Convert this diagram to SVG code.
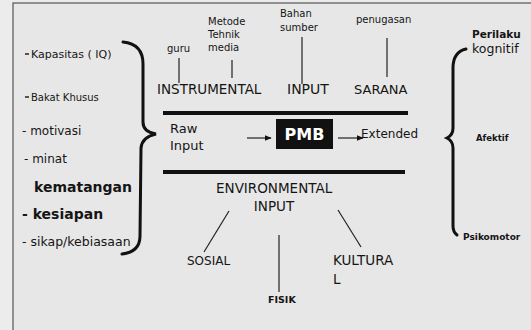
<svg xmlns="http://www.w3.org/2000/svg" width="531" height="330" viewBox="0 0 531 330">
<defs>
<marker id="ah" viewBox="0 0 10 10" refX="9" refY="5" markerWidth="7" markerHeight="7" markerUnits="userSpaceOnUse" orient="auto"><path d="M0,1 L10,5 L0,9 z" fill="#111"/></marker>
<style>
text{font-family:"DejaVu Sans","Verdana",sans-serif;fill:#151515}
.s{font-size:10px}
.m{font-size:12px}
.l{font-size:13px}
.b{font-weight:bold}
.ln{stroke:#222;stroke-width:1.2;fill:none}
.thick{stroke:#111;stroke-width:4;fill:none}
.brace{stroke:#111;stroke-width:3;fill:none;stroke-linecap:round}
</style>
</defs>
<rect width="531" height="330" fill="#ececec"/>
<rect x="13" y="3" width="530" height="340" fill="#e7e7e7" stroke="#555" stroke-width="1.2"/>

<g id="left-list">
<line x1="25" y1="54" x2="29" y2="54" stroke="#222" stroke-width="1.5"/>
<text class="s" x="31" y="58" style="font-size:11px">Kapasitas ( IQ)</text>
<line x1="25" y1="97" x2="29" y2="97" stroke="#222" stroke-width="1.5"/>
<text class="s" x="31" y="101">Bakat Khusus</text>
<text class="m" x="22" y="135">- motivasi</text>
<text class="m" x="24" y="163">- minat</text>
<text class="b" x="34" y="192" style="font-size:14px">kematangan</text>
<text class="b" x="22" y="219" style="font-size:14px">- kesiapan</text>
<text class="m" x="22" y="246" style="font-size:12.5px">- sikap/kebiasaan</text>
</g>

<g id="left-brace">
<path class="brace" d="M123,42 Q143,44 143,64 L143,122 Q143,132 156,134 Q142,137 141,148 L140,236 Q140,252 122,254"/>
</g>

<g id="right-brace">
<path class="brace" d="M466,49 Q453,52 453,68 L453,128 Q453,135 447,138 Q453,141 453,148 L453,226 Q453,232 457,235"/>
</g>

<g id="right-labels">
<text class="b" x="472" y="38" style="font-size:10.5px">Perilaku</text>
<text x="472" y="53" style="font-size:12.5px">kognitif</text>
<text class="b" x="476" y="141" style="font-size:8.5px">Afektif</text>
<text class="b" x="463" y="240" style="font-size:9px">Psikomotor</text>
</g>

<g id="connectors">
<line class="ln" x1="179" y1="58" x2="179" y2="83"/>
<line class="ln" x1="232" y1="60" x2="232" y2="78"/>
<line class="ln" x1="302" y1="37" x2="302" y2="84"/>
<line class="ln" x1="387" y1="38" x2="387" y2="77"/>
<line class="thick" x1="163" y1="113" x2="408" y2="113"/>
<line class="thick" x1="163" y1="172" x2="405" y2="172"/>
<line class="ln" x1="247" y1="138" x2="271" y2="138" marker-end="url(#ah)"/>
<line class="ln" x1="338" y1="138" x2="363" y2="138" marker-end="url(#ah)"/>
<line class="ln" x1="229" y1="211" x2="204" y2="252"/>
<line class="ln" x1="338" y1="210" x2="361" y2="247"/>
<line class="ln" x1="279" y1="235" x2="279" y2="292"/>
</g>

<g id="instrumental">
<text class="s" x="167" y="52">guru</text>
<text class="s" x="208" y="25">Metode</text>
<text class="s" x="208" y="38">Tehnik</text>
<text class="s" x="208" y="51">media</text>
<text class="l" x="157" y="94" style="font-size:13.5px">INSTRUMENTAL</text>
</g>

<g id="input">
<text class="s" x="280" y="17">Bahan</text>
<text class="s" x="280" y="31">sumber</text>
<text class="l" x="287" y="94" style="font-size:14px">INPUT</text>
</g>

<g id="sarana">
<text class="s" x="356" y="23">penugasan</text>
<text class="l" x="354" y="94">SARANA</text>
</g>

<g id="raw-input">
<text class="l" x="170" y="133">Raw</text>
<text class="l" x="170" y="150">Input</text>
</g>

<g id="pmb">
<rect x="276" y="119" width="57" height="30" fill="#111"/>
<text x="304.5" y="140" text-anchor="middle" style="font-size:16px;font-weight:bold;fill:#fff">PMB</text>
</g>

<g id="extended">
<text class="m" x="361" y="138">Extended</text>
</g>

<g id="environmental">
<text class="l" x="216" y="193" style="font-size:13.5px">ENVIRONMENTAL</text>
<text class="l" x="274" y="211" text-anchor="middle" style="font-size:13.5px">INPUT</text>
</g>

<g id="sosial"><text class="m" x="187" y="265">SOSIAL</text></g>
<g id="kultural">
<text class="l" x="333" y="265" style="font-size:13.5px">KULTURA</text>
<text class="l" x="333" y="284" style="font-size:13.5px">L</text>
</g>
<g id="fisik"><text class="b" x="268" y="303" style="font-size:9.5px">FISIK</text></g>
</svg>
